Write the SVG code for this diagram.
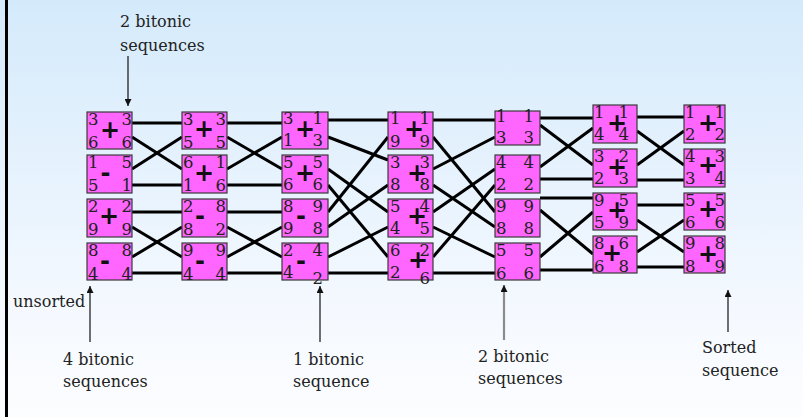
<svg xmlns="http://www.w3.org/2000/svg" width="803" height="417" viewBox="0 0 803 417">
  <defs>
    <linearGradient id="bg" x1="0" y1="0" x2="0" y2="1">
      <stop offset="0" stop-color="#d4eafb"/>
      <stop offset="0.75" stop-color="#f5f9ff"/>
      <stop offset="1" stop-color="#fcfdff"/>
    </linearGradient>
    <marker id="tip" viewBox="0 0 10 10" refX="10" refY="5" markerWidth="7" markerHeight="7" markerUnits="userSpaceOnUse" orient="auto">
      <path d="M0,0 L10,5 L0,10 z" fill="#111"/>
    </marker>
  </defs>
  <style>
    .box { fill: #ff66ff; stroke: #3a3a3a; stroke-width: 1.2; }
    .d { font-family: "DejaVu Serif", "Liberation Serif", serif; font-size: 16.5px; fill: #222; }
    .r { text-anchor: end; }
    .op { font-family: "DejaVu Sans", "Liberation Sans", sans-serif; font-weight: bold; font-size: 24px; fill: #111; text-anchor: middle; }
    .wire { stroke: #000; stroke-width: 3; fill: none; stroke-linecap: butt; }
    .lbl { font-family: "DejaVu Serif", "Liberation Serif", serif; font-size: 16px; fill: #222; }
    .ptr { stroke: #111; stroke-width: 1.2; fill: none; }
  </style>

  <rect x="0" y="0" width="803" height="417" fill="url(#bg)"/>
  <rect x="5" y="0" width="3" height="417" fill="#000"/>

  <!-- connectors between the comparator columns -->
  <g id="connectors">
    <!-- column 1 to column 2 -->
    <line class="wire" x1="132" y1="123" x2="182" y2="123"/>
    <line class="wire" x1="132" y1="137" x2="182" y2="169"/>
    <line class="wire" x1="132" y1="169" x2="182" y2="137"/>
    <line class="wire" x1="132" y1="185" x2="182" y2="185"/>
    <line class="wire" x1="132" y1="212" x2="182" y2="212"/>
    <line class="wire" x1="132" y1="227" x2="182" y2="257"/>
    <line class="wire" x1="132" y1="257" x2="182" y2="227"/>
    <line class="wire" x1="132" y1="273" x2="182" y2="273"/>
    <!-- column 2 to column 3 -->
    <line class="wire" x1="227" y1="123" x2="282" y2="123"/>
    <line class="wire" x1="227" y1="137" x2="282" y2="169"/>
    <line class="wire" x1="227" y1="169" x2="282" y2="137"/>
    <line class="wire" x1="227" y1="185" x2="282" y2="185"/>
    <line class="wire" x1="227" y1="212" x2="282" y2="212"/>
    <line class="wire" x1="227" y1="227" x2="282" y2="257"/>
    <line class="wire" x1="227" y1="257" x2="282" y2="227"/>
    <line class="wire" x1="227" y1="273" x2="282" y2="273"/>
    <!-- column 3 to column 4 (perfect shuffle) -->
    <line class="wire" x1="328" y1="120" x2="388" y2="120"/>
    <line class="wire" x1="328" y1="137" x2="388" y2="160"/>
    <line class="wire" x1="328" y1="169" x2="388" y2="212"/>
    <line class="wire" x1="328" y1="185" x2="388" y2="257"/>
    <line class="wire" x1="328" y1="212" x2="388" y2="137"/>
    <line class="wire" x1="328" y1="227" x2="388" y2="185"/>
    <line class="wire" x1="328" y1="257" x2="388" y2="227"/>
    <line class="wire" x1="328" y1="273" x2="388" y2="273"/>
    <!-- column 4 to column 5 (unshuffle) -->
    <line class="wire" x1="433" y1="120" x2="495" y2="120"/>
    <line class="wire" x1="433" y1="137" x2="495" y2="212"/>
    <line class="wire" x1="433" y1="169" x2="495" y2="137"/>
    <line class="wire" x1="433" y1="185" x2="495" y2="227"/>
    <line class="wire" x1="433" y1="212" x2="495" y2="169"/>
    <line class="wire" x1="433" y1="227" x2="495" y2="257"/>
    <line class="wire" x1="433" y1="257" x2="495" y2="185"/>
    <line class="wire" x1="433" y1="273" x2="495" y2="273"/>
    <!-- column 5 to column 6 -->
    <line class="wire" x1="540" y1="118" x2="593" y2="118"/>
    <line class="wire" x1="540" y1="125" x2="593" y2="165"/>
    <line class="wire" x1="540" y1="167" x2="593" y2="128"/>
    <line class="wire" x1="540" y1="179" x2="593" y2="179"/>
    <line class="wire" x1="540" y1="198" x2="593" y2="198"/>
    <line class="wire" x1="540" y1="210" x2="593" y2="254"/>
    <line class="wire" x1="540" y1="257" x2="593" y2="212"/>
    <line class="wire" x1="540" y1="270" x2="593" y2="270"/>
    <!-- column 6 to column 7 -->
    <line class="wire" x1="637" y1="117" x2="684" y2="117"/>
    <line class="wire" x1="637" y1="131" x2="684" y2="165"/>
    <line class="wire" x1="637" y1="165" x2="684" y2="131"/>
    <line class="wire" x1="637" y1="180" x2="684" y2="180"/>
    <line class="wire" x1="637" y1="205" x2="684" y2="205"/>
    <line class="wire" x1="637" y1="220" x2="684" y2="252"/>
    <line class="wire" x1="637" y1="252" x2="684" y2="220"/>
    <line class="wire" x1="637" y1="267" x2="684" y2="267"/>
  </g>

  <!-- column 1 -->
  <g id="c1b1"><rect class="box" x="87" y="112" width="45" height="37"/>
    <text class="d" x="88" y="125">3</text><text class="d" x="88" y="148">6</text>
    <text class="d r" x="132" y="125">3</text><text class="d r" x="132" y="148">6</text>
    <text class="op" x="110" y="138">+</text></g>
  <g id="c1b2"><rect class="box" x="87" y="155" width="45" height="38"/>
    <text class="d" x="88" y="168">1</text><text class="d" x="88" y="191">5</text>
    <text class="d r" x="132" y="168">5</text><text class="d r" x="132" y="191">1</text>
    <text class="op" x="105.5" y="180.5">-</text></g>
  <g id="c1b3"><rect class="box" x="87" y="199" width="45" height="38"/>
    <text class="d" x="88" y="212">2</text><text class="d" x="88" y="235">9</text>
    <text class="d r" x="132" y="212">2</text><text class="d r" x="132" y="235">9</text>
    <text class="op" x="109" y="223.5">+</text></g>
  <g id="c1b4"><rect class="box" x="87" y="243" width="45" height="37"/>
    <text class="d" x="88" y="256">8</text><text class="d" x="88" y="280">4</text>
    <text class="d r" x="132" y="256">8</text><text class="d r" x="132" y="280">4</text>
    <text class="op" x="105" y="268.5">-</text></g>

  <!-- column 2 -->
  <g id="c2b1"><rect class="box" x="182" y="112" width="45" height="37"/>
    <text class="d" x="183" y="125">3</text><text class="d" x="183" y="148">5</text>
    <text class="d r" x="226" y="125">3</text><text class="d r" x="226" y="148">5</text>
    <text class="op" x="204" y="136.5">+</text></g>
  <g id="c2b2"><rect class="box" x="182" y="155" width="45" height="38"/>
    <text class="d" x="183" y="168">6</text><text class="d" x="183" y="191">1</text>
    <text class="d r" x="226" y="168">1</text><text class="d r" x="226" y="191">6</text>
    <text class="op" x="204" y="180.5">+</text></g>
  <g id="c2b3"><rect class="box" x="182" y="199" width="45" height="38"/>
    <text class="d" x="183" y="212">2</text><text class="d" x="183" y="235">8</text>
    <text class="d r" x="226" y="212">8</text><text class="d r" x="226" y="235">2</text>
    <text class="op" x="200" y="223.5">-</text></g>
  <g id="c2b4"><rect class="box" x="182" y="243" width="45" height="37"/>
    <text class="d" x="183" y="256">9</text><text class="d" x="183" y="280">4</text>
    <text class="d r" x="226" y="256">9</text><text class="d r" x="226" y="280">4</text>
    <text class="op" x="200" y="268.5">-</text></g>

  <!-- column 3 -->
  <g id="c3b1"><rect class="box" x="282" y="112" width="46" height="37"/>
    <text class="d" x="283" y="124">3</text><text class="d" x="283" y="146">1</text>
    <text class="d r" x="323" y="124">1</text><text class="d r" x="323" y="146">3</text>
    <text class="op" x="305" y="136.5">+</text></g>
  <g id="c3b2"><rect class="box" x="282" y="155" width="46" height="38"/>
    <text class="d" x="283" y="168">5</text><text class="d" x="283" y="190">6</text>
    <text class="d r" x="323" y="168">5</text><text class="d r" x="323" y="190">6</text>
    <text class="op" x="305" y="180.5">+</text></g>
  <g id="c3b3"><rect class="box" x="282" y="199" width="46" height="38"/>
    <text class="d" x="283" y="212">8</text><text class="d" x="283" y="234">9</text>
    <text class="d r" x="323" y="212">9</text><text class="d r" x="323" y="234">8</text>
    <text class="op" x="301" y="223.5">-</text></g>
  <g id="c3b4"><rect class="box" x="282" y="243" width="46" height="37"/>
    <text class="d" x="283" y="256">2</text><text class="d" x="283" y="278">4</text>
    <text class="d r" x="323" y="256">4</text><text class="d r" x="323" y="284">2</text>
    <text class="op" x="301" y="268.5">-</text></g>

  <!-- column 4 -->
  <g id="c4b1"><rect class="box" x="388" y="112" width="45" height="37"/>
    <text class="d" x="390" y="124">1</text><text class="d" x="390" y="147">9</text>
    <text class="d r" x="430" y="124">1</text><text class="d r" x="430" y="147">9</text>
    <text class="op" x="414" y="136.5">+</text></g>
  <g id="c4b2"><rect class="box" x="388" y="155" width="45" height="38"/>
    <text class="d" x="390" y="168">3</text><text class="d" x="390" y="190">8</text>
    <text class="d r" x="430" y="168">3</text><text class="d r" x="430" y="190">8</text>
    <text class="op" x="417" y="180.5">+</text></g>
  <g id="c4b3"><rect class="box" x="388" y="199" width="45" height="38"/>
    <text class="d" x="390" y="212">5</text><text class="d" x="390" y="234">4</text>
    <text class="d r" x="430" y="212">4</text><text class="d r" x="430" y="234">5</text>
    <text class="op" x="417" y="223.5">+</text></g>
  <g id="c4b4"><rect class="box" x="388" y="243" width="45" height="37"/>
    <text class="d" x="390" y="256">6</text><text class="d" x="390" y="278">2</text>
    <text class="d r" x="430" y="256">2</text><text class="d r" x="430" y="284">6</text>
    <text class="op" x="418" y="267.5">+</text></g>

  <!-- column 5 -->
  <g id="c5b1"><rect class="box" x="495" y="111" width="45" height="34"/>
    <text class="d" x="496" y="122">1</text><text class="d" x="496" y="143">3</text>
    <text class="d r" x="534" y="122">1</text><text class="d r" x="534" y="143">3</text></g>
  <g id="c5b2"><rect class="box" x="495" y="155" width="45" height="38"/>
    <text class="d" x="496" y="168">4</text><text class="d" x="496" y="190">2</text>
    <text class="d r" x="534" y="168">4</text><text class="d r" x="534" y="190">2</text></g>
  <g id="c5b3"><rect class="box" x="495" y="199" width="45" height="38"/>
    <text class="d" x="496" y="212">9</text><text class="d" x="496" y="234">8</text>
    <text class="d r" x="534" y="212">9</text><text class="d r" x="534" y="234">8</text></g>
  <g id="c5b4"><rect class="box" x="495" y="243" width="45" height="37"/>
    <text class="d" x="496" y="256">5</text><text class="d" x="496" y="279">6</text>
    <text class="d r" x="534" y="256">5</text><text class="d r" x="534" y="279">6</text></g>

  <!-- column 6 -->
  <g id="c6b1"><rect class="box" x="593" y="105" width="44" height="38"/>
    <text class="d" x="594" y="118">1</text><text class="d" x="594" y="140">4</text>
    <text class="d r" x="629" y="118">1</text><text class="d r" x="629" y="140">4</text>
    <text class="op" x="617" y="130.5">+</text></g>
  <g id="c6b2"><rect class="box" x="593" y="149" width="44" height="38"/>
    <text class="d" x="594" y="162">3</text><text class="d" x="594" y="184">2</text>
    <text class="d r" x="629" y="162">2</text><text class="d r" x="629" y="184">3</text>
    <text class="op" x="617" y="174.5">+</text></g>
  <g id="c6b3"><rect class="box" x="593" y="193" width="44" height="37"/>
    <text class="d" x="594" y="206">9</text><text class="d" x="594" y="228">5</text>
    <text class="d r" x="629" y="206">5</text><text class="d r" x="629" y="228">9</text>
    <text class="op" x="617" y="217.5">+</text></g>
  <g id="c6b4"><rect class="box" x="593" y="236" width="44" height="37"/>
    <text class="d" x="594" y="249">8</text><text class="d" x="594" y="272">6</text>
    <text class="d r" x="629" y="249">6</text><text class="d r" x="629" y="272">8</text>
    <text class="op" x="612" y="260.5">+</text></g>

  <!-- column 7 -->
  <g id="c7b1"><rect class="box" x="684" y="105" width="41" height="38"/>
    <text class="d" x="685" y="118">1</text><text class="d" x="685" y="140">2</text>
    <text class="d r" x="725" y="118">1</text><text class="d r" x="725" y="140">2</text>
    <text class="op" x="708" y="130.5">+</text></g>
  <g id="c7b2"><rect class="box" x="684" y="149" width="41" height="38"/>
    <text class="d" x="685" y="162">4</text><text class="d" x="685" y="184">3</text>
    <text class="d r" x="725" y="162">3</text><text class="d r" x="725" y="184">4</text>
    <text class="op" x="708" y="172.5">+</text></g>
  <g id="c7b3"><rect class="box" x="684" y="193" width="41" height="37"/>
    <text class="d" x="685" y="206">5</text><text class="d" x="685" y="228">6</text>
    <text class="d r" x="725" y="206">5</text><text class="d r" x="725" y="228">6</text>
    <text class="op" x="708" y="216.5">+</text></g>
  <g id="c7b4"><rect class="box" x="684" y="236" width="41" height="37"/>
    <text class="d" x="685" y="249">9</text><text class="d" x="685" y="272">8</text>
    <text class="d r" x="725" y="249">8</text><text class="d r" x="725" y="272">9</text>
    <text class="op" x="708" y="261.5">+</text></g>

  <!-- annotations -->
  <g id="note-top">
    <text class="lbl" x="120" y="27">2 bitonic</text>
    <text class="lbl" x="120" y="51">sequences</text>
    <line class="ptr" x1="128" y1="56" x2="128" y2="106" marker-end="url(#tip)"/>
  </g>
  <g id="note-unsorted">
    <text class="lbl" x="13" y="307">unsorted</text>
  </g>
  <g id="note-4">
    <line class="ptr" x1="90" y1="342" x2="90" y2="286" marker-end="url(#tip)"/>
    <text class="lbl" x="63" y="365">4 bitonic</text>
    <text class="lbl" x="63" y="387">sequences</text>
  </g>
  <g id="note-1">
    <line class="ptr" x1="320" y1="342" x2="320" y2="286" marker-end="url(#tip)"/>
    <text class="lbl" x="293" y="365">1 bitonic</text>
    <text class="lbl" x="293" y="387">sequence</text>
  </g>
  <g id="note-2">
    <line x1="504" y1="340" x2="504" y2="285" stroke="#8a8a8a" stroke-width="2.2" marker-end="url(#tip)"/>
    <text class="lbl" x="478" y="362">2 bitonic</text>
    <text class="lbl" x="478" y="384">sequences</text>
  </g>
  <g id="note-sorted">
    <line class="ptr" x1="728" y1="332" x2="728" y2="290" marker-end="url(#tip)"/>
    <text class="lbl" x="702" y="353">Sorted</text>
    <text class="lbl" x="702" y="376">sequence</text>
  </g>
</svg>
